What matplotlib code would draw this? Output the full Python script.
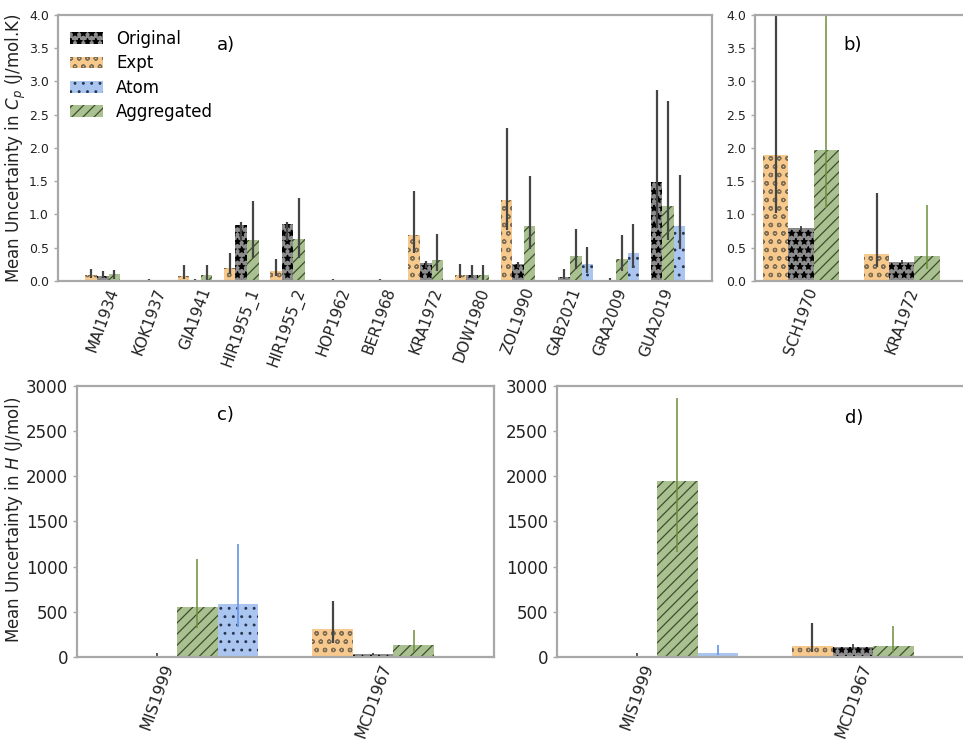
import numpy as np
import matplotlib
matplotlib.use("Agg")
import matplotlib.pyplot as plt
from matplotlib.patches import Patch

# ---- data: heat capacity panels (a, b) ----
refs_a = ["MAI1934", "KOK1937", "GIA1941", "HIR1955_1", "HIR1955_2", "HOP1962", "BER1968",
          "KRA1972", "DOW1980", "ZOL1990", "GAB2021", "GRA2009", "GUA2019"]
expt_a = [0.09, 0, 0.08, 0.20, 0.15, 0, 0, 0.69, 0.09, 1.22, 0, 0, 0]
expt_a_lo = [0.04, 0, 0.03, 0.10, 0.07, 0, 0, 0.42, 0.04, 0.77, 0, 0, 0]
expt_a_hi = [0.18, 0, 0.24, 0.42, 0.33, 0, 0, 1.35, 0.25, 2.30, 0, 0, 0]
orig_a = [0.07, 0, 0.01, 0.84, 0.86, 0, 0, 0.27, 0.09, 0.25, 0.06, 0.01, 1.49]
orig_a_lo = [0.04, 0, 0, 0.60, 0.60, 0, 0, 0.20, 0.04, 0.20, 0.03, 0, 0.80]
orig_a_hi = [0.15, 0.03, 0.03, 0.88, 0.88, 0.03, 0.03, 0.30, 0.24, 0.28, 0.18, 0.04, 2.87]
aggr_a = [0.10, 0, 0.09, 0.62, 0.63, 0, 0, 0.32, 0.09, 0.82, 0.37, 0.33, 1.12]
aggr_a_lo = [0.03, 0, 0.02, 0.35, 0.35, 0, 0, 0.15, 0.02, 0.48, 0.18, 0.15, 0.62]
aggr_a_hi = [0.17, 0, 0.24, 1.20, 1.25, 0, 0, 0.71, 0.24, 1.58, 0.78, 0.69, 2.70]
atom_a = [0, 0, 0, 0, 0, 0, 0, 0, 0, 0, 0.25, 0.42, 0.82]
atom_a_lo = [0, 0, 0, 0, 0, 0, 0, 0, 0, 0, 0.12, 0.20, 0.48]
atom_a_hi = [0, 0, 0, 0, 0, 0, 0, 0, 0, 0, 0.51, 0.86, 1.60]

refs_b = ["SCH1970", "KRA1972"]
expt_b = [1.90, 0.40]
expt_b_lo = [1.02, 0.21]
expt_b_hi = [4.50, 1.32]
orig_b = [0.80, 0.28]
orig_b_lo = [0.75, 0.25]
orig_b_hi = [0.82, 0.31]
aggr_b = [1.97, 0.37]
aggr_b_lo = [1.10, 0.18]
aggr_b_hi = [4.50, 1.14]
atom_b = [0, 0]
atom_b_lo = [0, 0]
atom_b_hi = [0, 0]

# ---- data: enthalpy panels (c, d) ----
refs_cd = ["MIS1999", "MCD1967"]
expt_c = [0, 310]
expt_c_lo = [0, 155]
expt_c_hi = [0, 620]
orig_c = [3, 30]
orig_c_lo = [0, 25]
orig_c_hi = [45, 40]
aggr_c = [550, 130]
aggr_c_lo = [320, 60]
aggr_c_hi = [1090, 300]
atom_c = [590, 0]
atom_c_lo = [330, 0]
atom_c_hi = [1250, 0]

expt_d = [0, 120]
expt_d_lo = [0, 60]
expt_d_hi = [0, 375]
orig_d = [3, 110]
orig_d_lo = [0, 90]
orig_d_hi = [44, 140]
aggr_d = [1950, 120]
aggr_d_lo = [1160, 45]
aggr_d_hi = [2870, 345]
atom_d = [48, 0]
atom_d_lo = [20, 0]
atom_d_hi = [133, 0]

# series styles: face, hatch colour, hatch
sty = {
    "Expt": ("#f8c98c", "#7d6e55", "oo"),
    "Original": ("#8c8c8c", "#000000", "**"),
    "Aggregated": ("#a9c190", "#3f4d2e", "///"),
    "Atom": ("#aac6f0", "#2a3550", ".."),
}
grey = "#454545"
spine_col = "#a8a8a8"


def draw(ax, x, series, w, ecols, elw):
    offs = {"Expt": -1, "Original": 0, "Aggregated": 1, "Atom": 2}
    for name, v, lo, hi in series:
        v = np.array(v, float)
        yerr = [v - np.array(lo, float), np.array(hi, float) - v]
        face, hc, h = sty[name]
        ax.bar(x + offs[name] * w, v, w, color=face, edgecolor=hc, linewidth=0, hatch=h,
               yerr=yerr, error_kw=dict(ecolor=ecols[name], elinewidth=elw[name], capsize=0))


def style(ax, tick_fs):
    for s in ax.spines.values():
        s.set_color(spine_col)
        s.set_linewidth(1.6)
    ax.tick_params(axis="y", length=3, width=1, color=spine_col, labelsize=tick_fs, labelcolor="#222")
    ax.tick_params(axis="x", length=0, labelcolor="#222")


plt.rcParams["hatch.linewidth"] = 0.9
fig = plt.figure(figsize=(9.63, 7.40), dpi=100)

ax_a = fig.add_axes([0.0602, 0.6203, 0.6791, 0.3595])
ax_b = fig.add_axes([0.7840, 0.6203, 0.2264, 0.3595])
ax_c = fig.add_axes([0.0800, 0.1122, 0.4330, 0.3662])
ax_d = fig.add_axes([0.5784, 0.1122, 0.4330, 0.3662])

# panel a
ec_a = {k: grey for k in sty}
lw_a = {k: 1.6 for k in sty}
xa = np.arange(len(refs_a))
draw(ax_a, xa, [("Expt", expt_a, expt_a_lo, expt_a_hi),
                ("Original", orig_a, orig_a_lo, orig_a_hi),
                ("Aggregated", aggr_a, aggr_a_lo, aggr_a_hi),
                ("Atom", atom_a, atom_a_lo, atom_a_hi)], 0.25, ec_a, lw_a)
ax_a.set_xlim(-0.97, 13.2)
ax_a.set_ylim(0, 4)
ax_a.set_yticks(np.arange(0, 4.01, 0.5))
ax_a.set_xticks(xa)
ax_a.set_xticklabels(refs_a, rotation=70, ha="center", fontsize=11)
ax_a.set_ylabel("Mean Uncertainty in $C_p$ (J/mol.K)", fontsize=12, color="#222")
ax_a.yaxis.set_label_coords(-0.046, 0.5)
style(ax_a, 9)
ax_a.text(0.257, 0.887, "a)", transform=ax_a.transAxes, fontsize=13, ha="center", va="center")

handles = [Patch(facecolor=sty[n][0], edgecolor=sty[n][1], linewidth=0, hatch=sty[n][2], label=n)
           for n in ["Original", "Expt", "Atom", "Aggregated"]]
ax_a.legend(handles=handles, loc="upper left", frameon=False, fontsize=12,
            bbox_to_anchor=(-0.005, 1.0), labelspacing=0.38, handlelength=2.0, handletextpad=0.8)

# panel b
ec_col = {"Expt": grey, "Original": "#333333", "Aggregated": "#6b8e3a", "Atom": "#6e9be8"}
lw_col = {"Expt": 1.6, "Original": 1.2, "Aggregated": 1.1, "Atom": 1.3}
xb = np.arange(len(refs_b))
draw(ax_b, xb, [("Expt", expt_b, expt_b_lo, expt_b_hi),
                ("Original", orig_b, orig_b_lo, orig_b_hi),
                ("Aggregated", aggr_b, aggr_b_lo, aggr_b_hi),
                ("Atom", atom_b, atom_b_lo, atom_b_hi)], 0.25, ec_col, lw_col)
ax_b.set_xlim(-0.455, 1.705)
ax_b.set_ylim(0, 4)
ax_b.set_yticks(np.arange(0, 4.01, 0.5))
ax_b.set_xticks(xb)
ax_b.set_xticklabels(refs_b, rotation=70, ha="center", fontsize=11)
style(ax_b, 9)
ax_b.text(0.45, 0.887, "b)", transform=ax_b.transAxes, fontsize=13, ha="center", va="center")

# panel c
xc = np.arange(len(refs_cd))
wc = 0.1875
draw(ax_c, xc, [("Expt", expt_c, expt_c_lo, expt_c_hi),
                ("Original", orig_c, orig_c_lo, orig_c_hi),
                ("Aggregated", aggr_c, aggr_c_lo, aggr_c_hi),
                ("Atom", atom_c, atom_c_lo, atom_c_hi)], wc, ec_col, lw_col)
ax_c.set_xlim(-0.37, 1.56)
ax_c.set_ylim(0, 3000)
ax_c.set_yticks(np.arange(0, 3001, 500))
ax_c.set_xticks(xc)
ax_c.set_xticklabels(refs_cd, rotation=70, ha="center", fontsize=11.5)
ax_c.set_ylabel("Mean Uncertainty in $H$ (J/mol)", fontsize=12, color="#222")
ax_c.yaxis.set_label_coords(-0.125, 0.505)
style(ax_c, 12)
ax_c.text(0.357, 0.893, "c)", transform=ax_c.transAxes, fontsize=13, ha="center", va="center")

# panel d
draw(ax_d, xc, [("Expt", expt_d, expt_d_lo, expt_d_hi),
                ("Original", orig_d, orig_d_lo, orig_d_hi),
                ("Aggregated", aggr_d, aggr_d_lo, aggr_d_hi),
                ("Atom", atom_d, atom_d_lo, atom_d_hi)], wc, ec_col, lw_col)
ax_d.set_xlim(-0.37, 1.56)
ax_d.set_ylim(0, 3000)
ax_d.set_yticks(np.arange(0, 3001, 500))
ax_d.set_xticks(xc)
ax_d.set_xticklabels(refs_cd, rotation=70, ha="center", fontsize=11.5)
style(ax_d, 12)
ax_d.text(0.712, 0.882, "d)", transform=ax_d.transAxes, fontsize=13, ha="center", va="center")

fig.savefig("out.png", dpi=100)
